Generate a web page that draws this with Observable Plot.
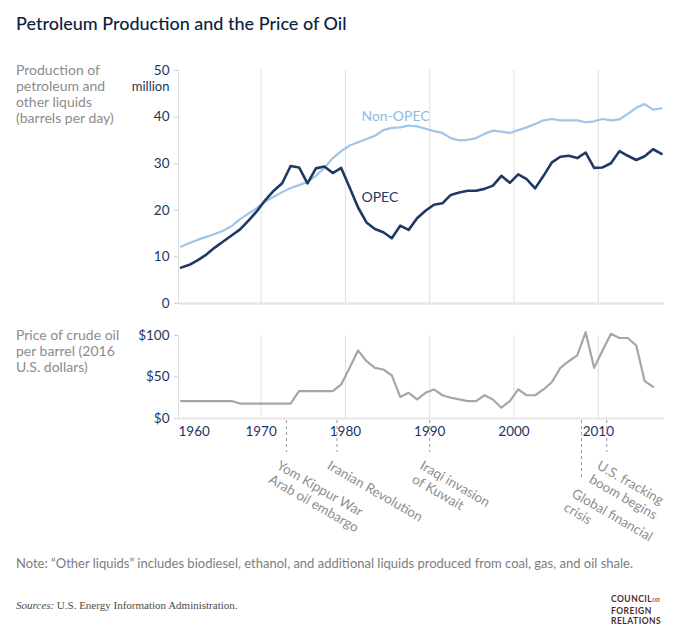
<!DOCTYPE html>
<html>
<head>
<meta charset="utf-8">
<script src="https://cdn.jsdelivr.net/npm/d3@7"></script>
<script src="https://cdn.jsdelivr.net/npm/@observablehq/plot@0.6"></script>
<style>
  html, body { margin: 0; padding: 0; background: #fff; }
  #chart { position: relative; width: 680px; height: 641px; font-family: Lato, "Noto Sans", sans-serif; overflow: hidden; }
  .abs { position: absolute; white-space: nowrap; }
  #title { left: 16px; top: 12px; font-size: 18px; line-height: 22px; font-weight: 500; color: #0b2341; }
  .ytitle { left: 16px; font-size: 14px; line-height: 16px; color: #8c8c8c; }
  #note { left: 16px; top: 555px; font-size: 13px; line-height: 16px; color: #7d7d7d; }
  #sources { left: 16px; top: 599px; font-family: "Liberation Serif", serif; font-size: 11px; color: #4a4a4a; }
  #logo { left: 611px; top: 594px; font-size: 8.5px; line-height: 10.5px; color: #4e2b2b; font-weight: 700; letter-spacing: 0.5px; }
</style>
</head>
<body>
<div id="chart">
  <div id="title" class="abs">Petroleum Production and the Price of Oil</div>
  <div class="abs ytitle" style="top:62px">Production of<br>petroleum and<br>other liquids<br>(barrels per day)</div>
  <div class="abs ytitle" style="top:327px">Price of crude oil<br>per barrel (2016<br>U.S. dollars)</div>
  <div id="top" class="abs" style="left:0;top:60px"></div>
  <div id="bottom" class="abs" style="left:0;top:310px"></div>
  <div id="note" class="abs">Note: “Other liquids” includes biodiesel, ethanol, and additional liquids produced from coal, gas, and oil shale.</div>
  <div id="sources" class="abs"><i>Sources:</i> U.S. Energy Information Administration.</div>
  <div id="logo" class="abs">COUNCIL<span style="font-style:italic;font-family:'Liberation Serif',serif;font-weight:400;font-size:7.5px;letter-spacing:0">on</span><br>FOREIGN<br>RELATIONS</div>
</div>
<script>
// ---- Data ----
const years = d3.range(1960, 2018);          // production years 1960–2017
const opec = [
  7.7, 8.3, 9.3, 10.5, 12.0, 13.3, 14.6, 15.9, 17.8, 19.8,
  22.2, 24.2, 25.8, 29.5, 29.2, 25.8, 29.0, 29.4, 28.0, 29.1,
  24.9, 20.6, 17.4, 16.0, 15.3, 14.0, 16.7, 15.8, 18.3, 19.9,
  21.2, 21.5, 23.3, 23.8, 24.2, 24.2, 24.6, 25.3, 27.4, 25.9,
  27.7, 26.7, 24.7, 27.4, 30.3, 31.5, 31.7, 31.2, 32.4, 29.1,
  29.2, 30.1, 32.7, 31.7, 30.8, 31.6, 33.1, 32.1
];
const nonOpec = [
  12.2, 13.0, 13.7, 14.3, 14.9, 15.6, 16.6, 18.1, 19.3, 20.5,
  21.9, 22.9, 23.9, 24.8, 25.4, 26.1, 27.4, 29.1, 31.2, 32.7,
  33.9, 34.6, 35.3, 36.0, 37.2, 37.7, 37.8, 38.2, 38.0, 37.5,
  37.0, 36.6, 35.5, 35.0, 35.1, 35.5, 36.4, 37.1, 36.9, 36.6,
  37.2, 37.8, 38.5, 39.3, 39.6, 39.3, 39.3, 39.3, 38.9, 39.1,
  39.6, 39.3, 39.5, 40.7, 42.0, 42.8, 41.6, 41.9
];
const priceYears = d3.range(1960, 2017);     // price years 1960–2016
const price = [
  21, 21, 21, 21, 21, 21, 21, 18, 18, 18,
  18, 18, 18, 18, 33, 33, 33, 33, 33, 41,
  61, 82, 69, 61, 59, 52, 26, 31, 23, 31,
  35, 28, 25, 23, 21, 21, 28, 23, 13, 21,
  35, 28, 28, 35, 44, 61, 69, 76, 104, 61,
  82, 102, 97, 97, 88, 45, 38
];
const decadeTicks = [1960, 1970, 1980, 1990, 2000, 2010];
const gridYears = [1970, 1980, 1990, 2000, 2010];
const prodTicks = [0, 10, 20, 30, 40, 50];
const priceTicks = [0, 50, 100];
const seriesNames = ["Non-OPEC", "OPEC"];
const events = [
  {year: 1973, label: "Yom Kippur War\nArab oil embargo"},
  {year: 1979, label: "Iranian Revolution"},
  {year: 1990, label: "Iraqi invasion\nof Kuwait"},
  {year: 2008, label: "Global financial\ncrisis"},
  {year: 2011, label: "U.S. fracking\nboom begins"}
];

// ---- Tables ----
const prodRows = years.map((year, i) => ({year, opec: opec[i], nonOpec: nonOpec[i]}));
const priceRows = priceYears.map((year, i) => ({year, price: price[i]}));

// ---- Styles ----
const NAVY = "#1b365d";
const OPEC_C = "#1f3864";
const NONOPEC_C = "#9fc5e8";
const PRICE_C = "#a6a6a6";
const GRID = "#dedede";
const ANNOT = "#8e8e8e";
const xDomain = [1960.2, 2017.85];
const midYear = d => d.year + 0.5;
const FONT = "Lato, 'Noto Sans', sans-serif";

const common = {
  width: 680,
  marginLeft: 178,
  marginRight: 16,
  x: {domain: xDomain, axis: null},
  style: {fontFamily: FONT, fontSize: "13px", background: "transparent", overflow: "visible"}
};

const topPlot = Plot.plot({
  ...common,
  height: 247,
  marginTop: 10,
  marginBottom: 4,
  y: {domain: [0, 50], axis: null},
  marks: [
    Plot.ruleX(gridYears, {stroke: GRID, strokeWidth: 1}),
    Plot.ruleY([0], {stroke: "#e6e6e6", strokeWidth: 2.5}),
    Plot.ruleX([xDomain[0]], {stroke: GRID}),
    Plot.axisY(prodTicks, {anchor: "left", tickSize: 4, tickPadding: 5, stroke: "#cfcfcf", fill: NAVY, fontSize: 13.5, label: null, tickFormat: d => String(d)}),
    Plot.text(["million"], {x: xDomain[0], y: 50, dx: -9, dy: 16, textAnchor: "end", fill: NAVY, fontSize: 13}),
    Plot.line(prodRows, {x: midYear, y: "nonOpec", stroke: NONOPEC_C, strokeWidth: 2.2}),
    Plot.line(prodRows, {x: midYear, y: "opec", stroke: OPEC_C, strokeWidth: 2.6}),
    Plot.text([seriesNames[0]], {x: 1981.9, y: 40.1, textAnchor: "start", fill: "#8fbbe3", fontSize: 14}),
    Plot.text([seriesNames[1]], {x: 1981.9, y: 22.8, textAnchor: "start", fill: OPEC_C, fontSize: 14})
  ]
});
document.getElementById("top").appendChild(topPlot);

const bottomPlot = Plot.plot({
  ...common,
  height: 237,
  marginTop: 25,
  marginBottom: 129,
  y: {domain: [0, 100], axis: null},
  marks: [
    Plot.ruleX(gridYears, {stroke: GRID, strokeWidth: 1}),
    Plot.ruleY([0], {stroke: "#e6e6e6", strokeWidth: 2}),
    Plot.ruleX([xDomain[0]], {stroke: GRID}),
    Plot.axisY(priceTicks, {anchor: "left", tickSize: 4, tickPadding: 5, stroke: "#cfcfcf", fill: NAVY, fontSize: 13.5, label: null, tickFormat: d => "$" + d}),
    Plot.line(priceRows, {x: midYear, y: "price", stroke: PRICE_C, strokeWidth: 2.2}),
    Plot.text(decadeTicks.slice(1), {x: d => d, y: 0, dy: 8, text: d => String(d), lineAnchor: "top", fill: NAVY, fontSize: 13.5}),
    Plot.text(decadeTicks.slice(0, 1), {x: xDomain[0], y: 0, dy: 8, text: d => String(d), lineAnchor: "top", textAnchor: "start", fill: NAVY, fontSize: 13.5}),
    Plot.ruleX(events.filter(d => d.year !== 2008), {x: "year", y1: 0, y2: 0, insetTop: 2, insetBottom: -34, stroke: "#9a9a9a", strokeDasharray: "3,3"}),
    Plot.ruleX(events.filter(d => d.year === 2008), {x: "year", y1: 0, y2: 0, insetTop: 2, insetBottom: -62, stroke: "#9a9a9a", strokeDasharray: "3,3"}),
    Plot.text(events.filter(d => d.year !== 2008), {x: "year", y: 0, text: "label", rotate: 30, textAnchor: "start", lineAnchor: "top", dx: -5, dy: 40, fill: ANNOT, fontSize: 13.5, lineHeight: 1.18}),
    Plot.text(events.filter(d => d.year === 2008), {x: "year", y: 0, text: "label", rotate: 30, textAnchor: "start", lineAnchor: "top", dx: -5, dy: 68, fill: ANNOT, fontSize: 13.5, lineHeight: 1.18})
  ]
});
document.getElementById("bottom").appendChild(bottomPlot);
</script>
</body>
</html>
